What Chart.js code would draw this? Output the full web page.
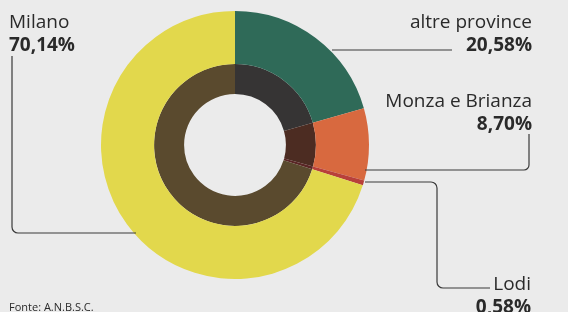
<!DOCTYPE html>
<html>
<head>
<meta charset="utf-8">
<script src="https://cdn.jsdelivr.net/npm/chart.js@4"></script>
<style>
  html, body { margin: 0; padding: 0; background: #ebebeb; }
  #wrap { position: relative; width: 568px; height: 312px; overflow: hidden; }
</style>
</head>
<body>
<div id="wrap"><canvas id="ringChart" width="568" height="312"></canvas></div>
<script>
// data (share of total, %)
const categories = ["altre province", "Monza e Brianza", "Lodi", "Milano"];
const shares = [20.58, 8.70, 0.58, 70.14];
const outerColors = ["#2f6a58", "#d8693f", "#b8403a", "#e2d84c"];
const innerColors = ["#363434", "#4c2c22", "#5a2626", "#5a4a2e"];
const source = "Fonte: A.N.B.S.C.";

const fmt = v => v.toFixed(2).replace(".", ",") + "%";
const FONT = "'Open Sans', 'Noto Sans', sans-serif";

// labels + leader lines
const calloutPlugin = {
  id: "callouts",
  afterDraw(chart) {
    const c = chart.ctx;
    c.save();
    c.strokeStyle = "#3a3a3a";
    c.lineWidth = 1.2;

    function path(pts, r) {
      c.beginPath();
      c.moveTo(pts[0][0], pts[0][1]);
      for (let i = 1; i < pts.length - 1; i++) {
        c.arcTo(pts[i][0], pts[i][1], pts[i + 1][0], pts[i + 1][1], r);
      }
      const last = pts[pts.length - 1];
      c.lineTo(last[0], last[1]);
      c.stroke();
    }

    path([[12, 56], [12, 233], [136, 233]], 6);        // Milano
    path([[332, 50], [452, 50]], 0);                   // altre province
    path([[365, 170], [529, 170], [529, 134]], 5);     // Monza e Brianza
    path([[365, 182], [437, 182], [437, 288], [490, 288]], 6); // Lodi

    c.fillStyle = "#2a2a2a";
    c.textBaseline = "alphabetic";

    function label(i, x, y, align) {
      c.textAlign = align;
      c.font = "19px " + FONT;
      c.fillText(categories[i], x, y);
      c.font = "bold 19px " + FONT;
      c.fillText(fmt(shares[i]), x, y + 23);
    }
    label(3, 9, 28, "left");
    label(0, 532, 28, "right");
    label(1, 532, 107, "right");
    label(2, 531, 290, "right");

    c.textAlign = "left";
    c.font = "11px " + FONT;
    c.fillText(source, 9, 311);
    c.restore();
  }
};

new Chart(document.getElementById("ringChart"), {
  type: "doughnut",
  data: {
    labels: categories,
    datasets: [
      { data: shares, backgroundColor: outerColors, borderWidth: 0, weight: 53 },
      { data: shares, backgroundColor: innerColors, borderWidth: 0, weight: 30 }
    ]
  },
  options: {
    responsive: false,
    animation: false,
    cutout: "38%",
    layout: { padding: { left: 101, right: 199, top: 11, bottom: 33 } },
    plugins: {
      legend: { display: false },
      tooltip: { enabled: false }
    }
  },
  plugins: [calloutPlugin]
});
</script>
</body>
</html>
